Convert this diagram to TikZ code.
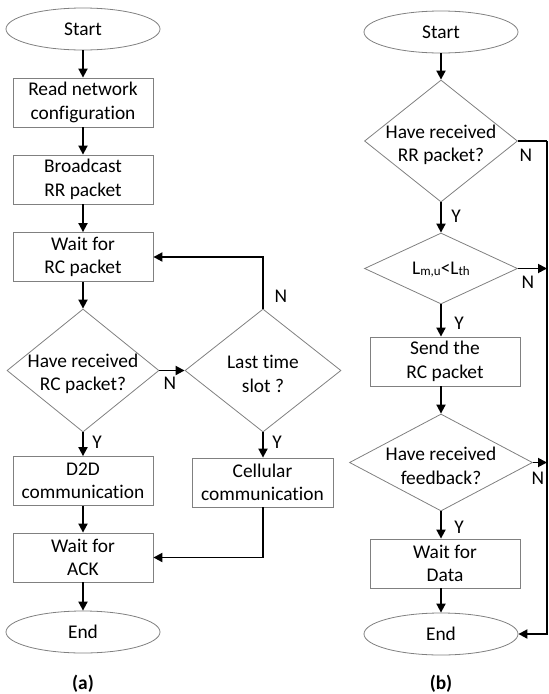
\documentclass[tikz,border=0pt]{standalone}
\usepackage{fontspec}
\setmainfont{Carlito}[Ligatures=NoCommon]
\usetikzlibrary{shapes.geometric,arrows.meta}
\begin{document}
\begin{tikzpicture}[x=1pt,y=-1pt,
  font=\fontsize{19.4}{23.5}\selectfont,
  shp/.style={draw=black!50,line width=0.8pt,inner sep=0pt,align=center},
  proc/.style={shp,rectangle,minimum height=49pt},
  term/.style={shp,ellipse,minimum width=154pt,minimum height=42pt},
  dia/.style={shp,diamond},
  txt/.style={inner sep=0pt,align=center},
  lbl/.style={inner sep=0pt},
  arr/.style={line width=1.8pt,-{Triangle[length=9pt,width=9pt]}},
  ln/.style={line width=1.8pt}]
\useasboundingbox (0,0) rectangle (549,694);
% ---------- (a) ----------
\node[term] (s1) at (83,29) {Start};
\node[proc,minimum width=140pt] (r1) at (83,102.5) {Read network\\configuration};
\node[proc,minimum width=140pt] (b1) at (83,179.5) {Broadcast\\RR packet};
\node[proc,minimum width=140pt] (w1) at (83,257) {Wait for\\RC packet};
\node[dia,minimum width=152pt,minimum height=123pt] (d1) at (83,370.5) {};
\node[txt] (d1t) at (83,374) {Have received\\RC packet?};
\node[dia,minimum width=156pt,minimum height=123pt] (d2) at (263,370.5) {};
\node[txt] (d2t) at (263,374) {Last time\\slot ?};
\node[proc,minimum width=140pt] (dd) at (83,481) {D2D\\communication};
\node[proc,minimum width=141pt] (cell) at (262.5,482.5) {Cellular\\communication};
\node[proc,minimum width=140pt] (wa) at (83,557.5) {Wait for\\ACK};
\node[term] (e1) at (83,632) {End};
\node[lbl,font=\fontsize{19.4}{23.5}\selectfont\bfseries] (la) at (83,684) {(a)};
\draw[arr] (s1) -- (r1);
\draw[arr] (r1) -- (b1);
\draw[arr] (b1) -- (w1);
\draw[arr] (w1) -- (d1);
\draw[arr] (d1.east) -- (d2.west);
\node[lbl] (n1) at (170,383) {N};
\draw[arr] (d2.north) |- (w1.east);
\node[lbl] (n2) at (281,296) {N};
\draw[arr] (d1.south) -- (dd.north);
\node[lbl] (y1) at (97,442) {Y};
\draw[arr] (d2.south) -- (d2.south |- cell.north);
\node[lbl] (y2) at (277,442) {Y};
\draw[arr] (dd) -- (wa);
\draw[arr] (cell.south -| d2.south) |- (wa.east);
\draw[arr] (wa) -- (e1);
% ---------- (b) ----------
\node[term] (s2) at (441,32) {Start};
\node[dia,minimum width=153pt,minimum height=122pt] (dr) at (441,141) {};
\node[txt] (drt) at (441,145) {Have received\\RR packet?};
\node[dia,minimum width=153pt,minimum height=71pt] (dl) at (441,268.5) {};
\node[txt] (dlt) at (441,270) {L\raisebox{-1pt}{\fontsize{13}{13}\selectfont m,u}<L\raisebox{-1pt}{\fontsize{13}{13}\selectfont th}};
\node[proc,minimum width=150pt] (send) at (445,361.5) {Send the\\RC packet};
\node[dia,minimum width=183pt,minimum height=97pt] (df) at (441,462.5) {};
\node[txt] (dft) at (441,466) {Have received\\feedback?};
\node[proc,minimum width=150pt] (wd) at (445,563.5) {Wait for\\Data};
\node[term] (e2) at (441,634) {End};
\node[lbl,font=\fontsize{19.4}{23.5}\selectfont\bfseries] (lb) at (441,684) {(b)};
\coordinate (c1) at (547,141);
\coordinate (c3) at (547,268.5);
\coordinate (c4) at (547,462.5);
\draw[arr] (s2) -- (dr);
\draw[arr] (dr.south) -- (dl.north);
\node[lbl] (y3) at (456,216) {Y};
\draw[arr] (dl.south) -- (dl.south |- send.north);
\node[lbl] (y4) at (459,323) {Y};
\draw[arr] (send.south -| df.north) -- (df.north);
\draw[arr] (df.south) -- (df.south |- wd.north);
\node[lbl] (y5) at (459,527) {Y};
\draw[arr] (wd.south -| e2.north) -- (e2.north);
\draw[ln] (dr.east) -- (c1);
\draw[arr] (c1) |- (e2.east);
\draw[arr] (dl.east) -- (c3);
\draw[arr] (df.east) -- (c4);
\node[lbl] (n3) at (526,155) {N};
\node[lbl] (n4) at (528,282) {N};
\node[lbl] (n5) at (538,478) {N};
\end{tikzpicture}
\end{document}
